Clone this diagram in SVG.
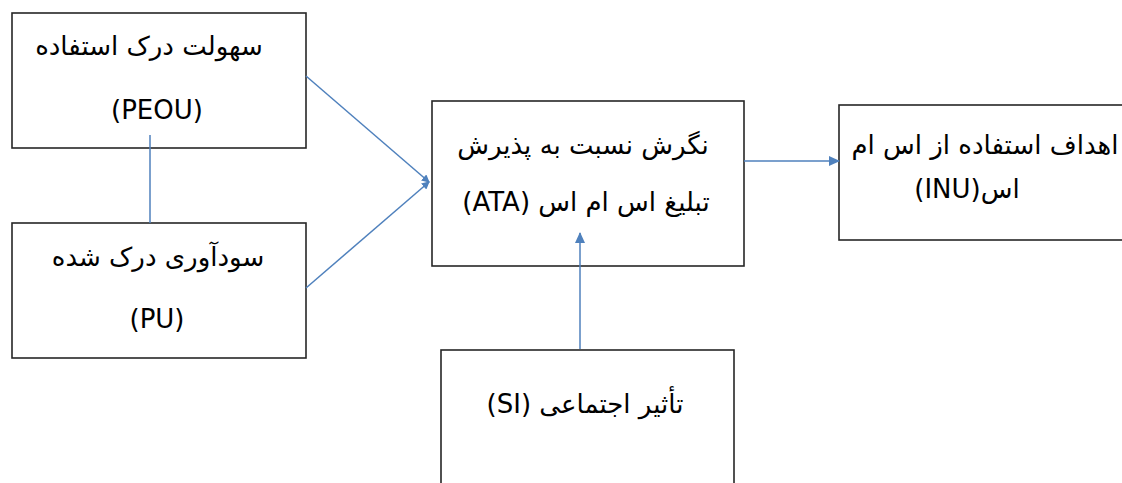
<svg xmlns="http://www.w3.org/2000/svg" width="1122" height="483" viewBox="0 0 1122 483">
<style>
.box{fill:#fff;stroke:#262626;stroke-width:1.6}
.t{font-family:"DejaVu Sans","Noto Sans",sans-serif;font-size:26px;fill:#000;text-anchor:middle}
.c{stroke:#4f81bd;stroke-width:1.5;fill:none}
</style>
<defs>
<marker id="ah" markerWidth="11" markerHeight="10" refX="10" refY="5" orient="auto" markerUnits="userSpaceOnUse">
<path d="M0,0 L11,5 L0,10 z" fill="#4f81bd"/>
</marker>
<marker id="dot" markerWidth="8" markerHeight="8" refX="7" refY="4" orient="auto" markerUnits="userSpaceOnUse">
<path d="M0,0 L8,4 L0,8 z" fill="#4f81bd"/>
</marker>
</defs>
<rect width="1122" height="483" fill="#fff"/>
<g id="peou">
<rect class="box" x="12" y="13" width="294" height="135"/>
<text class="t" x="149" y="55" direction="rtl">سهولت درک استفاده</text>
<text class="t" x="157" y="119">(PEOU)</text>
</g>
<g id="pu">
<rect class="box" x="12" y="223" width="294" height="135"/>
<text class="t" x="158" y="266" direction="rtl">سودآوری درک شده</text>
<text class="t" x="157" y="328">(PU)</text>
</g>
<g id="ata">
<rect class="box" x="432" y="101" width="312" height="165"/>
<text class="t" x="583" y="154" direction="rtl">نگرش نسبت به پذیرش</text>
<text class="t" x="586" y="211" direction="rtl">تبلیغ اس ام اس (ATA)</text>
</g>
<g id="inu">
<rect class="box" x="839" y="105" width="290" height="135"/>
<text class="t" x="985" y="154" direction="rtl">اهداف استفاده از اس ام</text>
<text class="t" x="967" y="198" direction="rtl">اس(INU)</text>
</g>
<g id="si">
<rect class="box" x="441" y="350" width="293" height="140"/>
<text class="t" x="585" y="413" direction="rtl">تأثیر اجتماعی (SI)</text>
</g>
<g id="connectors">
<line class="c" x1="150" y1="135" x2="150" y2="223"/>
<line class="c" x1="306" y1="76" x2="429" y2="182" marker-end="url(#dot)"/>
<line class="c" x1="306" y1="288" x2="429" y2="182" marker-end="url(#dot)"/>
<line class="c" x1="744" y1="161" x2="839" y2="161" marker-end="url(#ah)"/>
<line class="c" x1="580" y1="349" x2="580" y2="233" marker-end="url(#ah)"/>
</g>
</svg>
